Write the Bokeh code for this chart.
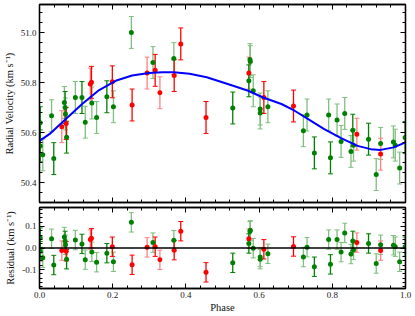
from bokeh.plotting import figure
from bokeh.layouts import column
from bokeh.models import (Range1d, LinearAxis, SingleIntervalTicker, PrintfTickFormatter,
                          Whisker, TeeHead, ColumnDataSource, Span)
from bokeh.embed import file_html
from bokeh.resources import INLINE

# ---------------- data ----------------
# green, opaque error bars
gd_phase = [0.002, 0.002, 0.039, 0.070, 0.074, 0.116, 0.184, 0.528, 0.572, 0.751, 0.795, 0.856, 0.899, 0.999]
gd_rv    = [50.640, 50.547, 50.496, 50.701, 50.582, 50.741, 50.744, 50.699, 50.808, 50.519, 50.499, 50.610, 50.574, 50.581]
gd_res   = [0.048, -0.015, -0.079, 0.033, -0.052, 0.019, -0.024, -0.069, 0.021, -0.087, -0.076, 0.033, 0.021, 0.006]
# green, faded error bars
gl_phase = [0.009, 0.033, 0.068, 0.071, 0.098, 0.125, 0.143, 0.156, 0.202, 0.251, 0.310, 0.367,
            0.575, 0.576, 0.584, 0.603, 0.603, 0.624, 0.721, 0.731, 0.790, 0.813, 0.824, 0.834,
            0.851, 0.858, 0.920, 0.932, 0.967, 0.972, 0.984]
gl_rv    = [50.511, 50.668, 50.721, 50.675, 50.741, 50.642, 50.719, 50.661, 50.704, 51.002, 50.881, 50.897,
            50.893, 50.885, 50.768, 50.695, 50.679, 50.704, 50.608, 50.671, 50.671, 50.651, 50.565, 50.677,
            50.525, 50.550, 50.432, 50.557, 50.563, 50.550, 50.458]
gl_res   = [-0.045, 0.043, 0.051, 0.015, 0.037, -0.054, -0.018, -0.066, -0.064, 0.119, 0.025, 0.036,
            0.078, 0.082, -0.001, -0.042, -0.052, -0.027, -0.042, 0.004, 0.039, 0.039, -0.019, 0.070,
            -0.028, -0.009, -0.072, 0.015, 0.013, 0.006, -0.064]
# red, opaque error bars
rd_phase = [0.073, 0.142, 0.199, 0.253, 0.316, 0.368, 0.386, 0.455, 0.613, 0.694]
rd_rv    = [50.637, 50.802, 50.804, 50.711, 50.850, 50.829, 50.956, 50.661, 50.741, 50.707]
rd_res   = [-0.015, 0.045, 0.006, -0.078, 0.006, -0.010, 0.078, -0.113, -0.006, 0.007]
# red, faded error bars
rl_phase = [0.061, 0.139, 0.294, 0.329, 0.572, 0.867, 0.932]
rl_rv    = [50.624, 50.795, 50.839, 50.760, 50.839, 50.594, 50.514]
rl_res   = [-0.012, 0.039, 0.003, -0.055, 0.043, 0.025, -0.012]

rv_err = 0.064   # half-length of RV error bars (km/s)
res_err = 0.045  # half-length of residual error bars (km/s)

# model curve
model_phase = [0.000, 0.027, 0.072, 0.118, 0.163, 0.208, 0.253, 0.299, 0.335, 0.367, 0.410, 0.457,
               0.529, 0.570, 0.611, 0.661, 0.697, 0.733, 0.778, 0.824, 0.869, 0.905, 0.932, 0.968, 1.000]
model_rv    = [50.567, 50.594, 50.655, 50.717, 50.771, 50.808, 50.829, 50.839, 50.842, 50.842, 50.836, 50.822,
               50.788, 50.768, 50.741, 50.715, 50.688, 50.655, 50.614, 50.578, 50.547, 50.534, 50.531, 50.541, 50.561]

x_ticks_interval = 0.2
rv_ticks_interval = 0.2
res_ticks_interval = 0.1

FONT = "Liberation Serif"
GREEN = "#008000"
GREEN_L = "#7fbf7f"
RED = "#ff0000"
RED_L = "#ff8080"
W = 412


def style_axis(ax, ticker, labels=True):
    ax.ticker = ticker
    ax.axis_line_color = "black"
    ax.axis_line_width = 1.3
    ax.major_tick_in = 5
    ax.major_tick_out = 0
    ax.minor_tick_in = 3
    ax.minor_tick_out = 0
    ax.major_tick_line_color = "black"
    ax.minor_tick_line_color = "black"
    ax.major_label_text_font = FONT
    ax.major_label_text_color = "#222222"
    ax.axis_label_text_font = FONT
    ax.axis_label_text_font_style = "normal"
    ax.axis_label_text_font_size = "10.5px"
    ax.axis_label_text_color = "#111111"
    ax.major_label_standoff = 3
    ax.axis_label_standoff = 3
    if labels:
        ax.major_label_text_font_size = "9px"
        ax.formatter = PrintfTickFormatter(format="%.1f")
    else:
        ax.major_label_text_font_size = "0px"
        ax.major_label_text_color = None
        ax.major_label_standoff = 0


def make_fig(height, yr, y_interval, show_x, ylabel, top_border, bottom_border):
    p = figure(width=W, height=height, x_range=Range1d(0, 1), y_range=yr,
               output_backend="svg", toolbar_location=None,
               min_border_left=37, min_border_right=7,
               min_border_top=top_border, min_border_bottom=bottom_border)
    p.xgrid.visible = False
    p.ygrid.visible = False
    p.outline_line_color = "black"
    p.outline_line_width = 1.3
    p.background_fill_color = "white"
    p.border_fill_color = "white"
    style_axis(p.below[0], SingleIntervalTicker(interval=x_ticks_interval, num_minor_ticks=5), labels=show_x)
    style_axis(p.left[0], SingleIntervalTicker(interval=y_interval, num_minor_ticks=5), labels=True)
    p.left[0].axis_label = ylabel
    top = LinearAxis()
    style_axis(top, SingleIntervalTicker(interval=x_ticks_interval, num_minor_ticks=5), labels=False)
    p.add_layout(top, "above")
    right = LinearAxis()
    style_axis(right, SingleIntervalTicker(interval=y_interval, num_minor_ticks=5), labels=False)
    p.add_layout(right, "right")
    return p


def add_points(p, xs, ys, err, bar_color):
    src = ColumnDataSource(dict(x=xs, y=ys,
                                up=[v + err for v in ys], lo=[v - err for v in ys]))
    w = Whisker(source=src, base="x", upper="up", lower="lo", dimension="height",
                line_color=bar_color, line_width=1.3,
                upper_head=TeeHead(size=5, line_color=bar_color, line_width=1.0),
                lower_head=TeeHead(size=5, line_color=bar_color, line_width=1.0))
    p.add_layout(w)


groups = [
    (gl_phase, gl_rv, gl_res, GREEN_L, GREEN),
    (rl_phase, rl_rv, rl_res, RED_L, RED),
    (gd_phase, gd_rv, gd_res, GREEN, GREEN),
    (rd_phase, rd_rv, rd_res, RED, RED),
]

# ---------------- top panel ----------------
p1 = make_fig(204, Range1d(50.32, 51.114), rv_ticks_interval, False,
              "Radial Velocity (km s\u207b\u00b9)", 4, 2)
for ph, rv, res, bc, mc in groups:
    add_points(p1, ph, rv, rv_err, bc)
for ph, rv, res, bc, mc in groups:
    p1.scatter(ph, rv, size=5, marker="circle", color=mc, line_width=0)
p1.line(model_phase, model_rv, line_color="#0000ff", line_width=2)

# ---------------- residual panel ----------------
p2 = make_fig(111, Range1d(-0.188, 0.188), res_ticks_interval, True,
              "Residual (km s\u207b\u00b9)", 3, 24)
p2.x_range = p1.x_range
p2.below[0].axis_label = "Phase"
p2.below[0].major_label_standoff = 3
p2.below[0].axis_label_standoff = 1
p2.add_layout(Span(location=0, dimension="width", line_color="black", line_width=1.6))
for ph, rv, res, bc, mc in groups:
    add_points(p2, ph, res, res_err, bc)
for ph, rv, res, bc, mc in groups:
    p2.scatter(ph, res, size=5, marker="circle", color=mc, line_width=0)

layout = column(p1, p2, spacing=0)
open("out.html", "w").write(file_html(layout, INLINE))
